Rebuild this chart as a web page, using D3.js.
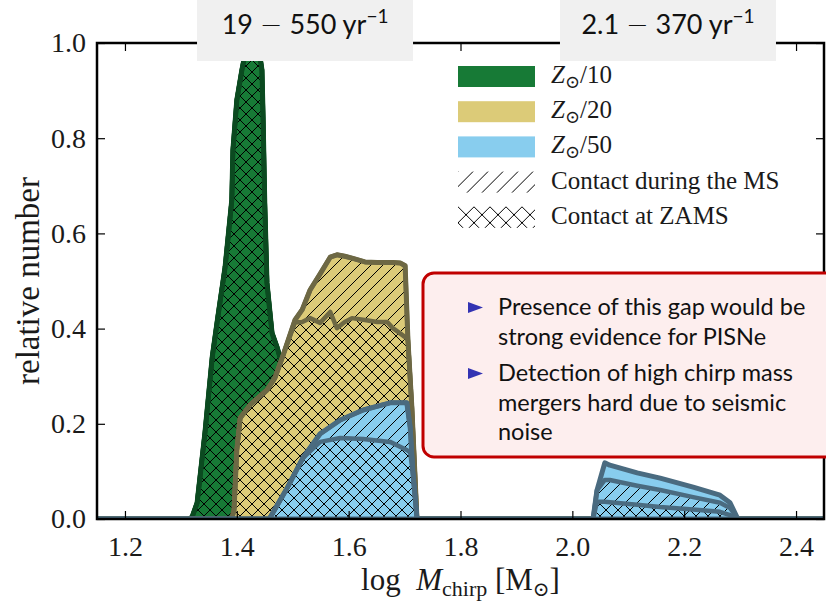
<!DOCTYPE html>
<html>
<head>
<meta charset="utf-8">
<script src="https://cdn.jsdelivr.net/npm/d3@7"></script>
<style>
  body { margin: 0; background: #fff; }
  svg { display: block; }
</style>
</head>
<body>
<svg id="chart" width="826" height="602"></svg>
<script>
// ticks
const xTicks = [1.2, 1.4, 1.6, 1.8, 2.0, 2.2, 2.4];
const yTicks = [0, 0.2, 0.4, 0.6, 0.8, 1.0];

// Z_sun/10
const z10X = [1.15, 1.313, 1.320, 1.329, 1.343, 1.356, 1.366, 1.379, 1.391, 1.393, 1.400, 1.409, 1.416, 1.424, 1.433, 1.441, 1.445, 1.447, 1.450, 1.454, 1.463, 1.472, 1.486, 1.504, 1.517, 2.45];
const z10Total = [0, 0, 0.004, 0.034, 0.181, 0.340, 0.424, 0.529, 0.670, 0.775, 0.880, 0.943, 0.985, 1.0, 0.996, 0.975, 0.943, 0.845, 0.664, 0.496, 0.391, 0.361, 0.303, 0.187, 0, 0];

// Z_sun/20
const z20X = [1.15, 1.391, 1.395, 1.400, 1.406, 1.424, 1.454, 1.468, 1.483, 1.504, 1.517, 1.531, 1.549, 1.567, 1.579, 1.593, 1.606, 1.629, 1.651, 1.669, 1.679, 1.692, 1.701, 1.706, 1.713, 1.722, 1.726, 2.45];
const z20Total = [0, 0, 0.019, 0.145, 0.212, 0.240, 0.271, 0.296, 0.345, 0.418, 0.440, 0.481, 0.515, 0.550, 0.555, 0.552, 0.548, 0.540, 0.539, 0.539, 0.539, 0.538, 0.532, 0.376, 0.235, 0.004, 0, 0];
const z20Zams = [0, 0, 0.019, 0.145, 0.212, 0.240, 0.271, 0.296, 0.345, 0.413, 0.414, 0.422, 0.412, 0.435, 0.401, 0.414, 0.422, 0.418, 0.414, 0.414, 0.401, 0.390, 0.382, 0.376, 0.235, 0.004, 0, 0];

// Z_sun/50
const z50X = [1.15, 1.456, 1.459, 1.490, 1.518, 1.549, 1.585, 1.626, 1.674, 1.704, 1.710, 1.715, 1.722, 1.726, 2.037, 2.044, 2.058, 2.067, 2.116, 2.157, 2.216, 2.264, 2.282, 2.296, 2.45];
const z50Total = [0, 0, 0.002, 0.065, 0.128, 0.179, 0.208, 0.229, 0.244, 0.244, 0.193, 0.097, 0.004, 0, 0, 0.060, 0.118, 0.113, 0.097, 0.086, 0.067, 0.050, 0.034, 0, 0];
const z50Ms = [0, 0, 0.002, 0.065, 0.128, 0.179, 0.208, 0.229, 0.244, 0.244, 0.193, 0.097, 0.004, 0, 0, 0.060, 0.082, 0.082, 0.070, 0.061, 0.046, 0.034, 0.023, 0, 0];
const z50Zams = [0, 0, 0.002, 0.065, 0.128, 0.162, 0.170, 0.168, 0.162, 0.145, 0.140, 0.097, 0.004, 0, 0, 0.036, 0.036, 0.035, 0.030, 0.025, 0.020, 0.015, 0.008, 0, 0];

const rateLow = ["19", "2.1"];
const rateHigh = ["550", "370"];
const rateCenters = [1.522, 2.171];
const notes = [
  ["Presence of this gap would be", "strong evidence for PISNe"],
  ["Detection of high chirp mass", "mergers hard due to seismic", "noise"]
];

const series = [
  {den: "10", x: z10X, total: z10Total, ms: z10Total, zams: z10Total, fill: "#177a36", edge: "#0b4a20"},
  {den: "20", x: z20X, total: z20Total, ms: z20Total, zams: z20Zams, fill: "#dccb78", edge: "#6d6844"},
  {den: "50", x: z50X, total: z50Total, ms: z50Ms, zams: z50Zams, fill: "#88cdee", edge: "#4a6b80"}
];

const serif = "'Liberation Serif', 'DejaVu Serif', serif";
const sans = "Lato, 'Open Sans', sans-serif";

const svg = d3.select("#chart");
const x = d3.scaleLinear().domain([1.15, 2.45]).range([97, 824]);
const y = d3.scaleLinear().domain([0, 1]).range([519, 43]);

const defs = svg.append("defs");
defs.append("clipPath").attr("id", "plotclip").append("rect")
  .attr("x", x(1.15)).attr("y", y(1)).attr("width", x(2.45) - x(1.15)).attr("height", y(0) - y(1));

function hatch(id, size, kind) {
  const p = defs.append("pattern").attr("id", id).attr("patternUnits", "userSpaceOnUse")
    .attr("width", size).attr("height", size);
  const s = size;
  const d = kind === "cross"
    ? `M0,0L${s},${s}M${s},0L0,${s}M-1,1L1,-1M${s-1},${s+1}L${s+1},${s-1}M-1,${s-1}L1,${s+1}M${s-1},-1L${s+1},1`
    : `M0,${s}L${s},0M-3,3L3,-3M${s-3},${s+3}L${s+3},${s-3}`;
  p.append("path").attr("d", d).attr("stroke", "#000").attr("stroke-width", 1).attr("fill", "none");
}
hatch("cross", 12, "cross");
hatch("diag", 12, "diag");
hatch("crossL", 16, "cross");
hatch("diagL", 15, "diag");

const plot = svg.append("g").attr("clip-path", "url(#plotclip)");

series.forEach(s => {
  const pts = s.x.map((v, i) => ({x: v, t: s.total[i], m: s.ms[i], z: s.zams[i]}));
  const area = (lo, hi) => d3.area().x(d => x(d.x)).y0(d => y(lo(d))).y1(d => y(hi(d)));
  const line = f => d3.line().x(d => x(d.x)).y(d => y(f(d)));

  plot.append("path").attr("d", area(d => 0, d => d.t)(pts)).attr("fill", s.fill);
  plot.append("path").attr("d", area(d => 0, d => d.z)(pts)).attr("fill", "url(#cross)");
  plot.append("path").attr("d", area(d => d.z, d => d.m)(pts)).attr("fill", "url(#diag)");

  [d => d.z, d => d.m].forEach(f => {
    plot.append("path").attr("d", line(f)(pts))
      .attr("fill", "none").attr("stroke", s.edge).attr("stroke-width", 4.5)
      .attr("stroke-linejoin", "round");
  });
  plot.append("path").attr("d", area(d => 0, d => d.t)(pts))
    .attr("fill", "none").attr("stroke", s.edge).attr("stroke-width", 5)
    .attr("stroke-linejoin", "round");
});

// axes, ticks inward
const fmt = d3.format(".1f");
svg.append("g").attr("transform", `translate(0,${y(0)})`)
  .call(d3.axisBottom(x).tickValues(xTicks).tickFormat(fmt).tickSize(-8).tickPadding(17));
svg.append("g").attr("transform", `translate(0,${y(1)})`)
  .call(d3.axisTop(x).tickValues(xTicks).tickFormat("").tickSize(-8));
svg.append("g").attr("transform", `translate(${x(1.15)},0)`)
  .call(d3.axisLeft(y).tickValues(yTicks).tickFormat(fmt).tickSize(-8).tickPadding(11));
svg.append("g").attr("transform", `translate(${x(2.45)},0)`)
  .call(d3.axisRight(y).tickValues(yTicks).tickFormat("").tickSize(-8));
svg.selectAll(".domain").remove();
svg.selectAll(".tick line").attr("stroke", "#000").attr("stroke-width", 1.2);
svg.selectAll(".tick text").attr("font-family", serif).attr("font-size", 28).attr("fill", "#1a1a1a");

svg.append("rect")
  .attr("x", x(1.15)).attr("y", y(1)).attr("width", x(2.45) - x(1.15)).attr("height", y(0) - y(1))
  .attr("fill", "none").attr("stroke", "#000").attr("stroke-width", 2.5);

// axis labels
const xl = svg.append("text").attr("x", (x(1.15) + x(2.45)) / 2).attr("y", 590).attr("text-anchor", "middle")
  .attr("font-family", serif).attr("font-size", 31).attr("fill", "#1a1a1a");
xl.append("tspan").text("log\u2002");
xl.append("tspan").attr("font-style", "italic").text("M");
xl.append("tspan").attr("font-size", 22).attr("dy", 6).text("chirp");
xl.append("tspan").attr("dy", -6).text(" [M");
xl.append("tspan").attr("font-size", 20).attr("dy", 6).text("\u2299");
xl.append("tspan").attr("dy", -6).text("]");

svg.append("text")
  .attr("transform", `translate(39,${(y(0) + y(1)) / 2}) rotate(-90)`)
  .attr("text-anchor", "middle")
  .attr("font-family", serif).attr("font-size", 33).attr("fill", "#1a1a1a")
  .text("relative number");

// legend
const lg = svg.append("g").attr("transform", "translate(458,66)");
const legendRows = [
  ...series.map(s => ({fill: s.fill, den: s.den})),
  {fill: "url(#diagL)", text: "Contact during the MS"},
  {fill: "url(#crossL)", text: "Contact at ZAMS"}
];
legendRows.forEach((r, i) => {
  const g = lg.append("g").attr("transform", `translate(0,${i * 35.2})`);
  g.append("rect").attr("width", 77).attr("height", 21).attr("fill", r.fill);
  const t = g.append("text").attr("x", 93).attr("y", 17)
    .attr("font-family", serif).attr("font-size", 25).attr("fill", "#1a1a1a");
  if (r.den) {
    t.append("tspan").attr("font-style", "italic").text("Z");
    t.append("tspan").attr("font-size", 18).attr("dy", 5).text("\u2299");
    t.append("tspan").attr("dy", -5).text("/" + r.den);
  } else {
    t.text(r.text);
  }
});

// rate boxes
rateLow.forEach((lo, i) => {
  const cx = x(rateCenters[i]);
  svg.append("rect").attr("x", cx - 108).attr("y", 0).attr("width", 216).attr("height", 61)
    .attr("fill", "#f0f0f0");
  const t = svg.append("text").attr("x", cx).attr("y", 34).attr("text-anchor", "middle")
    .attr("font-family", sans).attr("font-size", 27).attr("fill", "#111");
  t.append("tspan").text(lo + " ");
  t.append("tspan").attr("font-family", "'DejaVu Sans', sans-serif").attr("font-weight", 300).text("\u2212");
  t.append("tspan").text(" " + rateHigh[i] + " yr");
  t.append("tspan").attr("font-size", 19).attr("dy", -11).text("\u22121");
});

// callout box
const cb = svg.append("g");
cb.append("rect").attr("x", 423).attr("y", 273).attr("width", 440).attr("height", 184)
  .attr("rx", 11).attr("fill", "#fdeeee").attr("stroke", "#c00000").attr("stroke-width", 3);
const lineH = 29.5;
let by = 315;
notes.forEach(lines => {
  cb.append("path")
    .attr("d", `M468,${by - 13}L483,${by - 7.5}L468,${by - 2}Z`)
    .attr("fill", "#3333b3");
  lines.forEach((ln, j) => {
    cb.append("text").attr("x", 498).attr("y", by + j * lineH)
      .attr("font-family", sans).attr("font-size", 23.5).attr("fill", "#111").text(ln);
  });
  by += lines.length * lineH + 7;
});
</script>
</body>
</html>
